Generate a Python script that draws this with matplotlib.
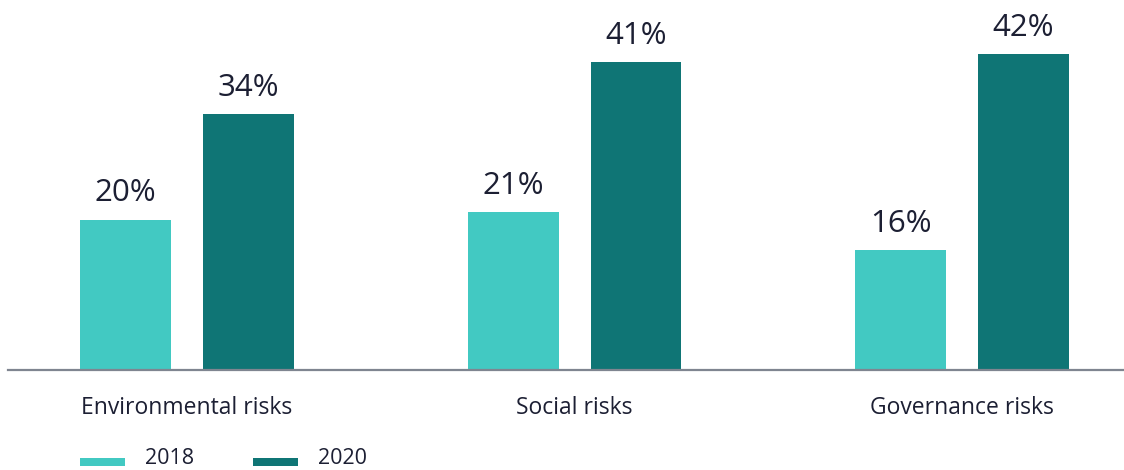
import matplotlib
matplotlib.use("Agg")
import matplotlib.pyplot as plt
from matplotlib.patches import Rectangle

categories = ["Environmental risks", "Social risks", "Governance risks"]
years = ["2018", "2020"]
values_2018 = [20, 21, 16]
values_2020 = [34, 41, 42]

color_2018 = "#42C9C2"
color_2020 = "#0F7575"
text_color = "#1C1F33"

plt.rcParams["font.family"] = ["Open Sans", "DejaVu Sans"]

W, H = 1124, 470
fig = plt.figure(figsize=(W / 100, H / 100), dpi=100)
ax = fig.add_axes([8 / W, 100 / H, (W - 8) / W, 370 / H])

x = list(range(len(categories)))
width = 0.2348
offset = 0.1587

bars_a = ax.bar([i - offset for i in x], values_2018, width, color=color_2018)
bars_b = ax.bar([i + offset for i in x], values_2020, width, color=color_2020)

for bars, vals in ((bars_a, values_2018), (bars_b, values_2020)):
    for b, v in zip(bars, vals):
        ax.annotate(f"{v}%", (b.get_x() + b.get_width() / 2, v),
                    xytext=(0, 8), textcoords="offset points",
                    ha="center", va="bottom", fontsize=22.5, color=text_color)

ax.set_xlim(-0.4619, 2.418)
ax.set_ylim(0, 49.2)
for s in ("top", "right", "left"):
    ax.spines[s].set_visible(False)
ax.spines["bottom"].set_color("#7F8590")
ax.spines["bottom"].set_linewidth(1.6)
ax.set_yticks([])
ax.set_xticks(x)
ax.set_xticklabels(categories, fontsize=16.5, color=text_color)
ax.tick_params(axis="x", length=0, pad=19)

# legend drawn in figure pixel space
for (x0, x1, tx), col, lab in zip(((80, 125, 145), (253, 298, 318)),
                                   (color_2018, color_2020), years):
    fig.add_artist(Rectangle((x0 / W, (H - 466) / H), (x1 - x0) / W, 8 / H,
                             transform=fig.transFigure, color=col, lw=0))
    fig.text(tx / W, (H - 459) / H, lab, fontsize=15.5, color=text_color,
             ha="left", va="center")

fig.savefig("out.png", dpi=100)
